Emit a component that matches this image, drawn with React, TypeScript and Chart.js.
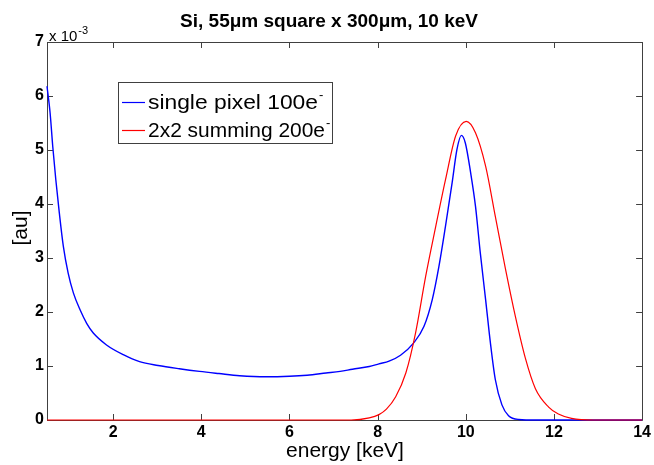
import React, { useEffect, useRef } from 'react';
import { Chart, registerables } from 'chart.js';

Chart.register(...registerables);

const titleText = 'Si, 55μm square x 300μm, 10 keV';
const xLabel = 'energy [keV]';
const yLabel = '[au]';
const seriesNames = ['single pixel 100e', '2x2 summing 200e'];

const xTicks = [2, 4, 6, 8, 10, 12, 14];
const yTicks = [0, 1, 2, 3, 4, 5, 6, 7];

// values in units of 1e-3
const singleX = [0.5, 0.57, 0.63, 0.7, 0.78, 0.87, 0.98, 1.1, 1.25, 1.4, 1.55, 1.85, 2.23, 2.6, 3.02, 3.5, 3.96, 4.4, 4.87, 5.47, 6.0, 6.4, 6.83, 7.15, 7.43, 7.81, 8.03, 8.26, 8.52, 8.81, 9.05, 9.24, 9.39, 9.54, 9.69, 9.8, 9.9, 9.99, 10.11, 10.22, 10.33, 10.45, 10.56, 10.67, 10.82, 10.97, 11.2, 11.6, 14];
const singleY = [6.18, 5.69, 5.07, 4.45, 3.83, 3.22, 2.72, 2.35, 2.04, 1.79, 1.61, 1.39, 1.21, 1.08, 1.01, 0.95, 0.9, 0.86, 0.82, 0.8, 0.81, 0.83, 0.87, 0.9, 0.94, 0.99, 1.04, 1.09, 1.2, 1.42, 1.73, 2.23, 2.84, 3.59, 4.39, 5.01, 5.27, 5.13, 4.58, 3.96, 3.09, 2.23, 1.42, 0.75, 0.28, 0.08, 0.01, 0, 0];

const sumX = [0.5, 7.4, 7.81, 8.03, 8.2, 8.41, 8.64, 8.86, 9.09, 9.32, 9.54, 9.77, 10.01, 10.22, 10.45, 10.67, 10.9, 11.13, 11.35, 11.58, 11.88, 12.1, 12.4, 12.9, 14];
const sumY = [0, 0, 0.04, 0.1, 0.2, 0.43, 0.87, 1.61, 2.66, 3.59, 4.45, 5.26, 5.53, 5.32, 4.7, 3.77, 2.8, 1.9, 1.15, 0.58, 0.24, 0.11, 0.03, 0, 0];

const FONT = '"Liberation Sans", Arial, sans-serif';

function fitText(ctx: CanvasRenderingContext2D, text: string, x: number, y: number, target: number) {
  const w = ctx.measureText(text).width;
  const s = target / w;
  ctx.save();
  ctx.translate(x, y);
  ctx.scale(s, 1);
  ctx.fillText(text, 0, 0);
  ctx.restore();
  return target;
}

const decorPlugin = {
  id: 'decor',
  beforeDatasetsDraw(chart: any) {
    const { ctx, chartArea } = chart;
    const { left, right, top, bottom } = chartArea;
    const xs = chart.scales.x;
    const ys = chart.scales.y;
    ctx.save();
    ctx.strokeStyle = '#404040';
    ctx.lineWidth = 1;
    ctx.beginPath();
    ctx.rect(Math.round(left) + 0.5, Math.round(top) + 0.5, Math.round(right - left), Math.round(bottom - top));
    ctx.stroke();
    const tl = 6;
    ctx.beginPath();
    xTicks.forEach((v) => {
      const px = Math.round(xs.getPixelForValue(v)) + 0.5;
      ctx.moveTo(px, bottom);
      ctx.lineTo(px, bottom - tl);
      ctx.moveTo(px, top);
      ctx.lineTo(px, top + tl);
    });
    yTicks.forEach((v) => {
      const py = Math.round(ys.getPixelForValue(v)) + 0.5;
      ctx.moveTo(left, py);
      ctx.lineTo(left + tl, py);
      ctx.moveTo(right, py);
      ctx.lineTo(right - tl, py);
    });
    ctx.stroke();
    ctx.restore();
  },
  afterDraw(chart: any) {
    const { ctx, chartArea } = chart;
    ctx.save();
    ctx.fillStyle = '#000';
    // title
    ctx.font = `bold 19px ${FONT}`;
    ctx.textAlign = 'center';
    ctx.textBaseline = 'alphabetic';
    ctx.fillText(titleText, 329, 27);
    // axis labels
    ctx.font = `21px ${FONT}`;
    ctx.fillText(xLabel, 345, 457);
    ctx.save();
    ctx.translate(21, 228);
    ctx.rotate(-Math.PI / 2);
    ctx.textBaseline = 'middle';
    ctx.fillText(yLabel, 0, 0);
    ctx.restore();
    // exponent
    ctx.textAlign = 'left';
    ctx.font = `15px ${FONT}`;
    ctx.fillText('x 10', chartArea.left + 2, 41);
    const ew = ctx.measureText('x 10').width;
    ctx.font = `11px ${FONT}`;
    ctx.fillText('-3', chartArea.left + 3 + ew, 34);
    // legend
    const bx = 118, by = 82, bw = 214, bh = 61;
    ctx.fillStyle = '#fff';
    ctx.fillRect(bx, by, bw, bh);
    ctx.strokeStyle = '#404040';
    ctx.lineWidth = 1;
    ctx.strokeRect(bx + 0.5, by + 0.5, bw, bh);
    const rows = [by + 20, by + 48];
    const colors = ['#0000ff', '#ff0000'];
    const widths = [170, 177];
    rows.forEach((ry, i) => {
      ctx.strokeStyle = colors[i];
      ctx.lineWidth = 1.2;
      ctx.beginPath();
      ctx.moveTo(bx + 4, ry + 0.5);
      ctx.lineTo(bx + 27, ry + 0.5);
      ctx.stroke();
      ctx.fillStyle = '#000';
      ctx.font = `21px ${FONT}`;
      const w = fitText(ctx, seriesNames[i], bx + 30, ry + 7, widths[i]);
      ctx.font = `13px ${FONT}`;
      ctx.fillText('-', bx + 31 + w, ry - 3);
    });
    ctx.restore();
  },
};

export default function App() {
  const ref = useRef<HTMLCanvasElement | null>(null);
  useEffect(() => {
    if (!ref.current) return;
    const chart = new Chart(ref.current, {
      type: 'scatter',
      data: {
        datasets: [
          {
            label: seriesNames[1],
            data: sumX.map((x, i) => ({ x, y: sumY[i] })),
            showLine: true,
            borderColor: '#ff0000',
            borderWidth: 1.2,
            pointRadius: 0,
            cubicInterpolationMode: 'monotone',
            clip: 4,
            order: 0,
          },
          {
            label: seriesNames[0],
            data: singleX.map((x, i) => ({ x, y: singleY[i] })),
            showLine: true,
            borderColor: '#0000ff',
            borderWidth: 1.4,
            pointRadius: 0,
            cubicInterpolationMode: 'monotone',
            clip: 4,
            order: 1,
          },
        ],
      },
      options: {
        animation: false,
        responsive: false,
        events: [],
        layout: { padding: { top: 42, right: 11, left: 0, bottom: 0 } },
        plugins: { legend: { display: false }, tooltip: { enabled: false }, title: { display: false } },
        scales: {
          x: {
            type: 'linear',
            min: 0.5,
            max: 14,
            afterBuildTicks: (s: any) => { s.ticks = xTicks.map((v) => ({ value: v })); },
            afterFit: (s: any) => { s.height = 45; },
            grid: { display: false, drawTicks: false },
            border: { display: false },
            ticks: { color: '#000', font: { family: FONT, size: 16, weight: 'bold' }, padding: 3, maxRotation: 0 },
          },
          y: {
            type: 'linear',
            min: 0,
            max: 7,
            afterBuildTicks: (s: any) => { s.ticks = yTicks.map((v) => ({ value: v })); },
            afterFit: (s: any) => { s.width = 47; },
            grid: { display: false, drawTicks: false },
            border: { display: false },
            ticks: { color: '#000', font: { family: FONT, size: 16, weight: 'bold' }, padding: 3 },
          },
        },
      },
      plugins: [decorPlugin],
    } as any);
    return () => chart.destroy();
  }, []);
  return (
    <div style={{ position: 'fixed', left: 0, top: 0, width: 654, height: 465, background: '#fff' }}>
      <canvas ref={ref} width={654} height={465} style={{ display: 'block', width: 654, height: 465 }} />
    </div>
  );
}
